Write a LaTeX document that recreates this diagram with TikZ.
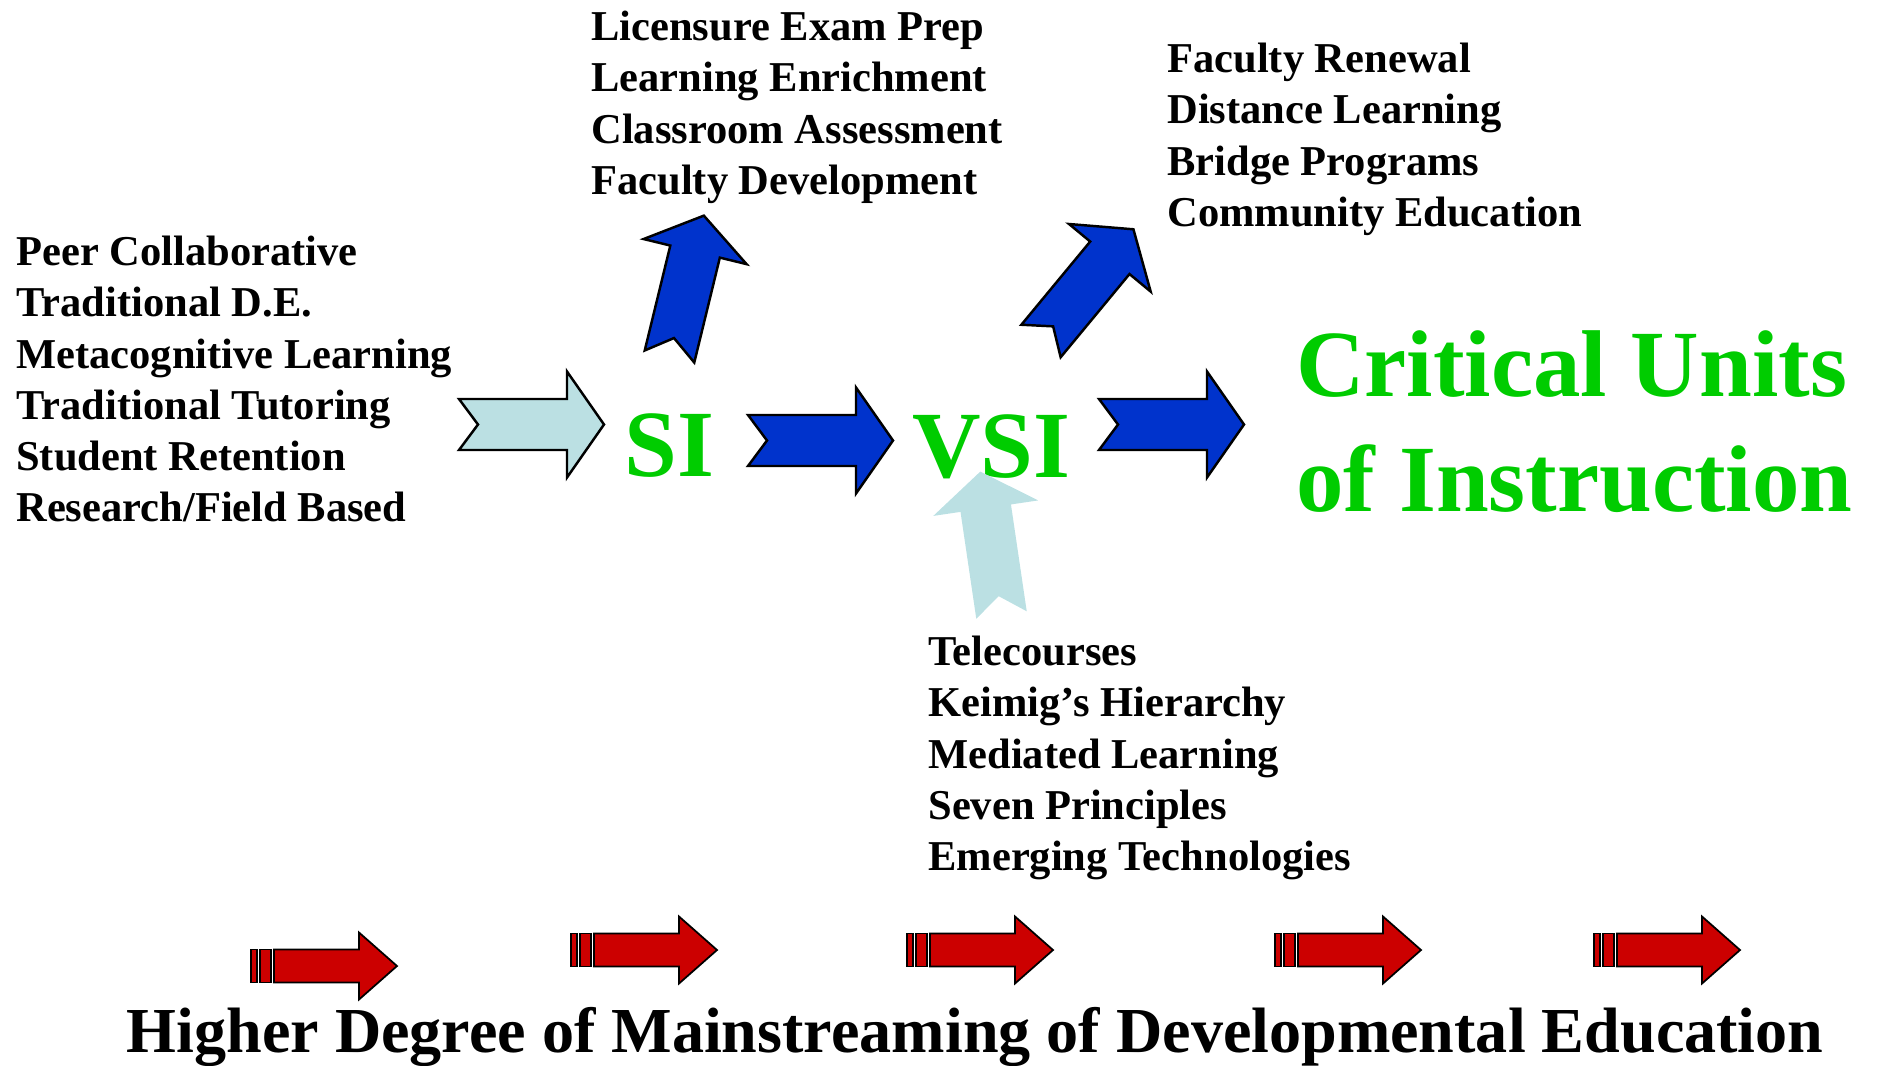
\documentclass[tikz,border=0pt]{standalone}
\usepackage{fontspec}
\setmainfont{Liberation Serif}
\definecolor{paleblue}{RGB}{187,224,227}
\definecolor{siblue}{RGB}{0,51,204}
\definecolor{unitgreen}{RGB}{0,204,0}
\definecolor{streamred}{RGB}{204,0,0}
\begin{document}
\begin{tikzpicture}[
    x=0.02cm, y=-0.02cm,
    topics/.style={font=\fontsize{24.2}{29.1}\selectfont\bfseries, align=left, anchor=north west, inner sep=0pt},
    bigword/.style={text=unitgreen, font=\fontsize{54}{65.4}\selectfont\bfseries, inner sep=0pt},
    feed/.style={fill=paleblue, draw=black, line width=1.4pt},
    flow/.style={fill=siblue, draw=black, line width=1.4pt},
    medium/.style={fill=paleblue},
    stream/.style={fill=streamred, draw=black, line width=1pt},
    blockarrow/.pic={
        \path[pic actions] (0,25.5) -- (108,25.5) -- (108,53) -- (145,0) -- (108,-53)
            -- (108,-25.5) -- (0,-25.5) -- (19,0) -- cycle;
    },
    redarrow/.pic={
        \path[pic actions] (0,-16.5) rectangle (6,16.5);
        \path[pic actions] (9,-16.5) rectangle (20,16.5);
        \path[pic actions] (23,-16.5) -- (108,-16.5) -- (108,-33.5) -- (146,0) -- (108,33.5)
            -- (108,16.5) -- (23,16.5) -- cycle;
    },
]
\useasboundingbox (0,0) rectangle (1879,1065);

% Listen
\node[topics] (feeders) at (16,236) {Peer Collaborative\\Traditional D.E.\\Metacognitive Learning\\Traditional Tutoring\\Student Retention\\Research/Field Based};
\node[topics] (siuses) at (591,11) {Licensure Exam Prep\\Learning Enrichment\\Classroom Assessment\\Faculty Development};
\node[topics] (vsiuses) at (1167,43) {Faculty Renewal\\Distance Learning\\Bridge Programs\\Community Education};
\node[topics] (media) at (928,636) {Telecourses\\Keimig’s Hierarchy\\Mediated Learning\\Seven Principles\\Emerging Technologies};

% Stufen
\node[bigword, anchor=base west] (si) at (624,476) {SI};
\node[bigword, anchor=base west] (vsi) at (912,477) {VSI};
\node[bigword, anchor=north west, align=left] (cui) at (1296,330) {Critical Units\\of Instruction};

% Blockpfeile
\pic[feed] at (459,424.5) {blockarrow};
\pic[flow] at (748,440.5) {blockarrow};
\pic[flow] at (1099,424.5) {blockarrow};
\pic[flow, rotate=76.3] at (669.5,356.5) {blockarrow};
\pic[flow, rotate=50.4] at (1041,341) {blockarrow};
\pic[medium, rotate=98.4] at (1001.5,615) {blockarrow};

% Mainstreaming
\pic[stream] at (251,966) {redarrow};
\pic[stream] at (571,950) {redarrow};
\pic[stream] at (907,950) {redarrow};
\pic[stream] at (1275,950) {redarrow};
\pic[stream] at (1594,950) {redarrow};
\node[font=\fontsize{36.5}{43}\selectfont\bfseries, anchor=base, inner sep=0pt] (caption) at (975,1052)
    {Higher Degree of Mainstreaming of Developmental Education};

\end{tikzpicture}
\end{document}
